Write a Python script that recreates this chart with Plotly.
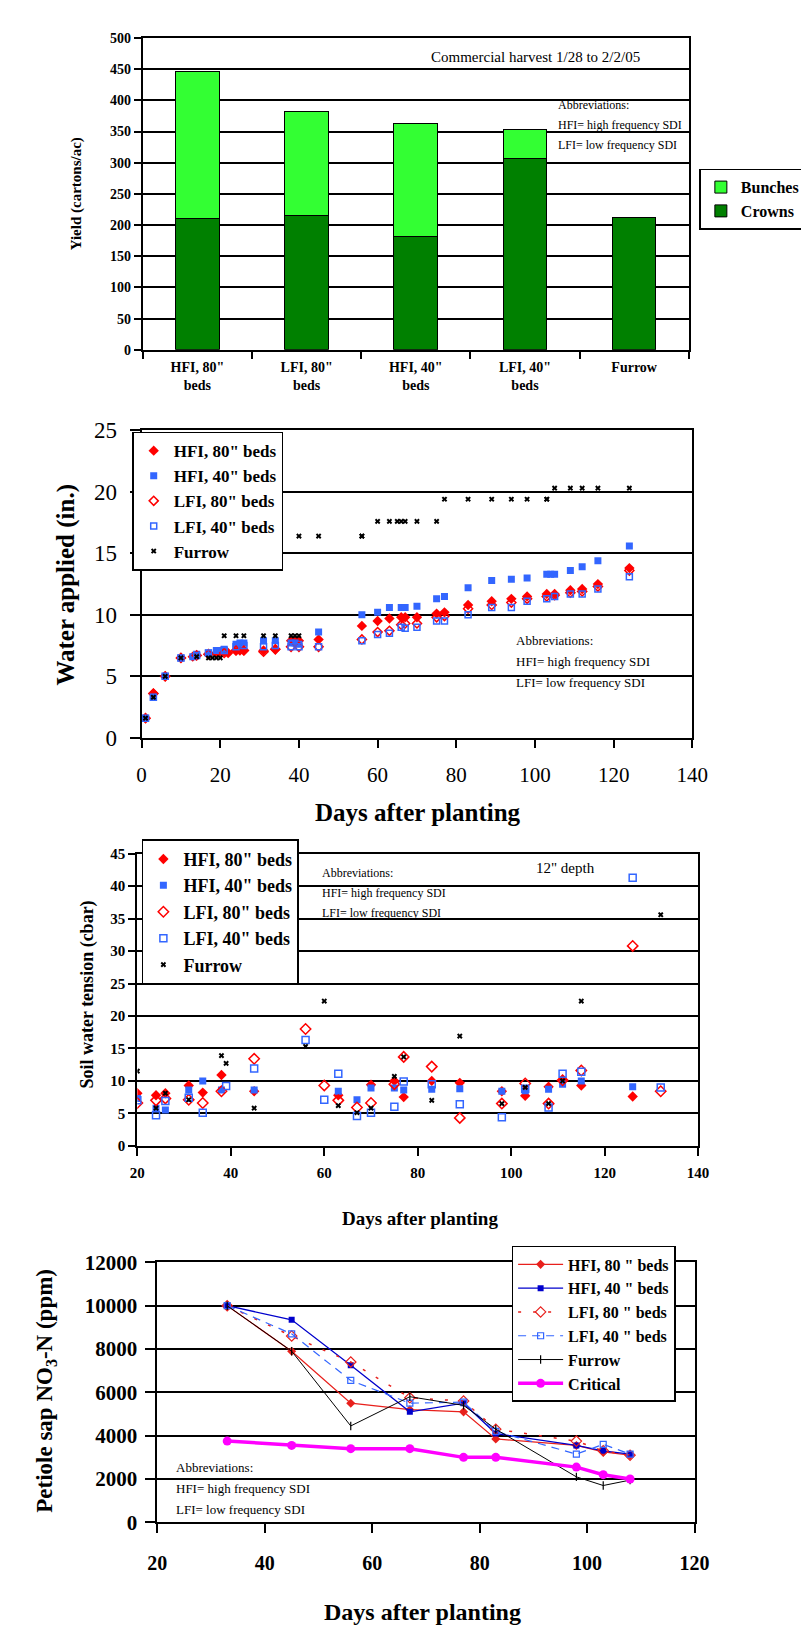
import plotly.graph_objects as go

W, H = 809, 1633
SERIF = "Liberation Serif"

# ---------------- Data ----------------
# Panel 1: yield
yield_cats = ['HFI, 80"<br>beds', 'LFI, 80"<br>beds', 'HFI, 40"<br>beds', 'LFI, 40"<br>beds', 'Furrow']
yield_crowns = [210, 215, 181, 307, 213]
yield_bunches = [237, 167, 182, 47, None]

# Panel 2: cumulative water applied (in.)
wa_hfi80_days = [1, 3, 6, 10, 13, 14, 17, 19, 20, 21, 22, 24, 25, 26, 31, 34, 38, 39, 40, 45, 56, 60, 63, 66, 67, 70, 75, 77, 83, 89, 94, 98, 103, 105, 109, 112, 116, 124]
wa_hfi80 = [1.6, 3.6, 5.0, 6.5, 6.6, 6.7, 6.8, 6.9, 7.0, 7.0, 6.9, 7.1, 7.1, 7.1, 7.1, 7.2, 7.9, 7.9, 7.9, 8.0, 9.1, 9.5, 9.7, 9.8, 9.8, 9.8, 10.1, 10.2, 10.8, 11.1, 11.3, 11.5, 11.7, 11.7, 12.0, 12.1, 12.5, 13.8]
wa_hfi40_days = [1, 3, 6, 10, 13, 14, 17, 19, 20, 21, 24, 25, 26, 31, 34, 38, 39, 40, 45, 56, 60, 63, 66, 67, 70, 75, 77, 83, 89, 94, 98, 103, 104, 105, 109, 112, 116, 124]
wa_hfi40 = [1.6, 3.3, 5.0, 6.5, 6.6, 6.8, 6.9, 7.1, 7.1, 7.2, 7.6, 7.7, 7.7, 7.9, 7.9, 7.7, 7.7, 7.6, 8.6, 10.0, 10.2, 10.6, 10.6, 10.6, 10.7, 11.3, 11.5, 12.2, 12.8, 12.9, 13.0, 13.3, 13.3, 13.3, 13.6, 13.9, 14.4, 15.6]
wa_lfi80_days = [1, 3, 6, 10, 14, 17, 21, 24, 26, 31, 34, 38, 40, 45, 56, 60, 63, 66, 67, 70, 75, 77, 83, 89, 94, 98, 103, 105, 109, 112, 116, 124]
wa_lfi80 = [1.6, 3.6, 5.0, 6.5, 6.7, 6.8, 6.9, 7.1, 7.1, 7.0, 7.2, 7.4, 7.4, 7.4, 8.0, 8.6, 8.7, 9.2, 9.3, 9.3, 9.8, 9.9, 10.5, 10.8, 11.0, 11.3, 11.5, 11.6, 11.8, 11.9, 12.3, 13.6]
wa_lfi40_days = [1, 3, 6, 10, 14, 17, 21, 24, 26, 31, 34, 38, 40, 45, 56, 60, 63, 66, 67, 70, 75, 77, 83, 89, 94, 98, 103, 105, 109, 112, 116, 124]
wa_lfi40 = [1.6, 3.3, 5.0, 6.5, 6.7, 6.9, 7.1, 7.4, 7.5, 7.4, 7.5, 7.4, 7.4, 7.4, 7.9, 8.4, 8.5, 9.0, 8.9, 9.0, 9.5, 9.5, 10.0, 10.6, 10.6, 11.1, 11.3, 11.5, 11.7, 11.7, 12.1, 13.1]
wa_furrow_days = [1, 3, 6, 10, 14, 17, 18, 19, 20, 21, 24, 26, 31, 34, 38, 39, 40, 40, 45, 56, 56, 60, 63, 65, 66, 67, 70, 75, 77, 83, 89, 94, 98, 103, 103, 105, 109, 112, 116, 124]
wa_furrow = [1.6, 3.3, 5.0, 6.5, 6.6, 6.5, 6.5, 6.5, 6.5, 8.3, 8.3, 8.3, 8.3, 8.3, 8.3, 8.3, 8.3, 16.4, 16.4, 16.4, 16.4, 17.6, 17.6, 17.6, 17.6, 17.6, 17.6, 17.6, 19.4, 19.4, 19.4, 19.4, 19.4, 19.4, 19.4, 20.3, 20.3, 20.3, 20.3, 20.3]

# Panel 3: soil water tension (cbar), 12" depth
st_hfi80_days = [20, 24, 26, 31, 34, 38, 45, 63, 70, 75, 77, 83, 89, 98, 103, 108, 111, 115, 126]
st_hfi80 = [8.1, 7.8, 8.1, 9.3, 8.2, 10.9, 8.4, 7.8, 9.4, 10.0, 7.5, 10.0, 9.7, 8.4, 7.7, 9.1, 10.1, 9.3, 7.6]
st_hfi40_days = [20, 24, 26, 31, 34, 38, 45, 63, 67, 70, 75, 77, 83, 89, 98, 103, 108, 111, 115, 126]
st_hfi40 = [7.3, 5.8, 5.5, 8.6, 10.0, 8.6, 8.6, 8.4, 7.1, 8.9, 8.9, 8.6, 8.7, 8.8, 8.4, 8.5, 8.7, 9.5, 10.0, 9.1]
st_lfi80_days = [20, 24, 26, 31, 34, 38, 45, 56, 60, 63, 67, 70, 75, 77, 83, 89, 98, 103, 108, 111, 115, 126, 132]
st_lfi80 = [6.6, 7.0, 7.3, 7.1, 6.6, 8.4, 13.4, 18.0, 9.3, 7.0, 5.9, 6.6, 9.5, 13.7, 12.2, 4.3, 6.5, 9.6, 6.5, 10.1, 11.6, 30.8, 8.4]
st_lfi40_days = [20, 24, 26, 31, 34, 39, 45, 56, 60, 63, 67, 70, 75, 77, 83, 89, 98, 103, 108, 111, 115, 126, 132]
st_lfi40 = [7.0, 4.7, 6.9, 7.4, 5.1, 9.2, 11.9, 16.3, 7.1, 11.1, 4.6, 5.1, 6.0, 9.9, 9.5, 6.4, 4.4, 8.8, 5.9, 11.1, 11.4, 41.3, 9.0]
st_furrow_days = [20, 24, 26, 31, 38, 39, 45, 56, 60, 63, 67, 70, 75, 77, 83, 89, 98, 103, 108, 111, 115, 132]
st_furrow = [11.5, 5.8, 8.1, 7.1, 13.9, 12.7, 5.8, 15.3, 22.3, 6.2, 5.1, 5.8, 10.7, 13.7, 7.0, 16.9, 6.5, 9.0, 6.5, 10.0, 22.3, 35.6]

# Panel 4: petiole sap NO3-N (ppm)
pn_days = [33, 45, 56, 67, 77, 83, 98, 103, 108]
pn_hfi80 = [10000, 7900, 5500, 5200, 5100, 3850, 3550, 3250, 3100]
pn_hfi40 = [10000, 9350, 7250, 5100, 5500, 4100, 3550, 3300, 3150]
pn_lfi80 = [10000, 8600, 7400, 5750, 5600, 4300, 3750, 3300, 3100]
pn_lfi40 = [10000, 8700, 6550, 5500, 5550, 4200, 3150, 3600, 3150]
pn_furrow = [10000, 7900, 4450, 5800, 5400, 4300, 2100, 1700, 1950]
pn_critical = [3750, 3550, 3400, 3400, 3000, 3000, 2550, 2200, 2000]

abbrev_lines = ["Abbreviations:", "HFI= high frequency SDI", "LFI= low frequency SDI"]

# ---------------- Helpers ----------------
def px(x):
    return x / W

def py(y):
    return 1 - y / H

RED = "#FF0000"
BLUE = "#3366FF"
DBLUE = "#0000CC"

fig = go.Figure()

# ---------- Panel 1 ----------
fig.add_trace(go.Bar(x=yield_cats, y=yield_crowns, name="Crowns", marker=dict(color="#008000", line=dict(color="black", width=1)),
                     width=0.4, xaxis="x", yaxis="y", legend="legend"))
fig.add_trace(go.Bar(x=yield_cats, y=yield_bunches, name="Bunches", marker=dict(color="#33FF33", line=dict(color="black", width=1)),
                     width=0.4, xaxis="x", yaxis="y", legend="legend"))

# ---------- Panel 2 ----------
def sc(xs, ys, name, sym, color, size, xa, ya, leg, open_=False, lw=1.5):
    m = dict(symbol=sym, size=size, color=color)
    if open_:
        m["line"] = dict(color=color, width=lw)
    return go.Scatter(x=xs, y=ys, name=name, mode="markers", marker=m, xaxis=xa, yaxis=ya, legend=leg,
                      legendgroup=name + leg)

fig.add_trace(sc(wa_hfi80_days, wa_hfi80, 'HFI, 80" beds', "diamond", RED, 8, "x2", "y2", "legend2"))
fig.add_trace(sc(wa_hfi40_days, wa_hfi40, 'HFI, 40" beds', "square", BLUE, 7, "x2", "y2", "legend2"))
fig.add_trace(sc(wa_lfi80_days, wa_lfi80, 'LFI, 80" beds', "diamond-open", RED, 7, "x2", "y2", "legend2", True))
fig.add_trace(sc(wa_lfi40_days, wa_lfi40, 'LFI, 40" beds', "square-open", BLUE, 6, "x2", "y2", "legend2", True))
fig.add_trace(sc(wa_furrow_days, wa_furrow, 'Furrow', "x", "black", 5, "x2", "y2", "legend2"))

# ---------- Panel 3 ----------
fig.add_trace(sc(st_hfi80_days, st_hfi80, 'HFI, 80" beds', "diamond", RED, 8, "x3", "y3", "legend3"))
fig.add_trace(sc(st_hfi40_days, st_hfi40, 'HFI, 40" beds', "square", BLUE, 7, "x3", "y3", "legend3"))
fig.add_trace(sc(st_lfi80_days, st_lfi80, 'LFI, 80" beds', "diamond-open", RED, 8, "x3", "y3", "legend3", True))
fig.add_trace(sc(st_lfi40_days, st_lfi40, 'LFI, 40" beds', "square-open", BLUE, 7, "x3", "y3", "legend3", True))
fig.add_trace(sc(st_furrow_days, st_furrow, 'Furrow', "x", "black", 5, "x3", "y3", "legend3"))

# ---------- Panel 4 ----------
def ln(ys, name, color, dash, sym, size, width, open_=False):
    m = dict(symbol=sym, size=size, color=color)
    if open_:
        m["line"] = dict(color=color, width=1.2)
    return go.Scatter(x=pn_days, y=ys, name=name, mode="lines+markers", line=dict(color=color, width=width, dash=dash),
                      marker=m, xaxis="x4", yaxis="y4", legend="legend4", legendgroup=name + "4")

fig.add_trace(ln(pn_hfi80, 'HFI, 80 " beds', "#E8201C", "solid", "diamond", 7, 1.3))
fig.add_trace(ln(pn_hfi40, 'HFI, 40 " beds', DBLUE, "solid", "square", 6, 1.3))
fig.add_trace(ln(pn_lfi80, 'LFI, 80 " beds', "#E8201C", "3px,12px", "diamond-open", 8, 1.5, True))
fig.add_trace(ln(pn_lfi40, 'LFI, 40 " beds', BLUE, "8px,6px", "square-open", 6, 1.2, True))
fig.add_trace(ln(pn_furrow, 'Furrow', "black", "solid", "line-ns-open", 6, 1.0, True))
fig.add_trace(ln(pn_critical, 'Critical', "#FF00FF", "solid", "circle", 9, 3.5))

# ---------------- Axes ----------------
def axstyle(**kw):
    d = dict(showline=True, linecolor="black", linewidth=2, mirror=True, ticks="outside", ticklen=8,
             tickwidth=1.5, tickcolor="black", showgrid=False, zeroline=False, fixedrange=True)
    d.update(kw)
    return d

def yax(**kw):
    d = axstyle(showgrid=True, gridcolor="black", gridwidth=1.5)
    d.update(kw)
    return d

layout = dict(
    width=W, height=H, margin=dict(l=0, r=0, t=0, b=0), paper_bgcolor="white", plot_bgcolor="white",
    barmode="stack", showlegend=True,
    font=dict(family=SERIF, color="black"),
    xaxis=axstyle(domain=[px(129), px(693)], anchor="y", tickson="boundaries", ticklen=7,
                  tickfont=dict(size=14, family=SERIF, weight="bold"), ticklabelstandoff=3),
    yaxis=yax(domain=[py(335), py(18.3)], anchor="x", range=[0, 500], dtick=50, ticklen=7,
              tickfont=dict(size=14, family=SERIF, weight="bold")),
    xaxis2=axstyle(domain=[px(127.7), px(696.7)], anchor="y2", range=[0, 140], dtick=20,
                   tickfont=dict(size=21, family=SERIF), ticklabelstandoff=9),
    yaxis2=yax(domain=[py(729), py(416.7)], anchor="x2", range=[0, 25], dtick=5, ticklen=10,
               tickfont=dict(size=23, family=SERIF), ticklabelstandoff=8),
    xaxis3=axstyle(domain=[px(123.3), px(702.7)], anchor="y3", range=[20, 140], dtick=20,
                   tickfont=dict(size=15, family=SERIF, weight="bold"), ticklabelstandoff=4),
    yaxis3=yax(domain=[py(1143.3), py(846.7)], anchor="x3", range=[0, 45], dtick=5, ticklen=7,
               tickfont=dict(size=15, family=SERIF, weight="bold")),
    xaxis4=axstyle(domain=[px(144), px(699)], anchor="y4", range=[20, 120], dtick=20, ticklen=9,
                   tickfont=dict(size=20, family=SERIF, weight="bold"), ticklabelstandoff=13),
    yaxis4=yax(domain=[py(1525.7), py(1261.7)], anchor="x4", range=[0, 12000], dtick=2000, ticklen=10,
               tickformat="d", tickfont=dict(size=21, family=SERIF, weight="bold"), ticklabelstandoff=4),
)

legbase = dict(bgcolor="white", bordercolor="black", borderwidth=1.5, xanchor="left", yanchor="top",
               itemwidth=30, itemclick=False, itemdoubleclick=False)
layout["legend"] = dict(legbase, x=px(704), y=py(151), traceorder="reversed",
                        font=dict(size=16, family=SERIF, weight="bold"))
layout["legend2"] = dict(legbase, x=px(118), y=py(418), traceorder="normal",
                         font=dict(size=17, family=SERIF, weight="bold"))
layout["legend3"] = dict(legbase, x=px(128), y=py(832), traceorder="normal",
                         font=dict(size=18, family=SERIF, weight="bold"))
layout["legend4"] = dict(legbase, x=px(510), y=py(1245), traceorder="normal", itemwidth=45,
                         font=dict(size=16, family=SERIF, weight="bold"))

fig.update_layout(**layout)

# ---------------- Annotations ----------------
ann = []

def txt(x, y, s, size, bold=False, angle=0, xanchor="center", yanchor="middle"):
    ann.append(dict(x=px(x), y=py(y), xref="paper", yref="paper", text=s, showarrow=False, textangle=angle,
                    xanchor=xanchor, yanchor=yanchor,
                    font=dict(size=size, family=SERIF, color="black", weight="bold" if bold else "normal")))

# Panel 1
txt(535, 38, "Commercial harvest 1/28 to 2/2/05", 15)
for i, s in enumerate(abbrev_lines):
    txt(556, 86 + i * 20.5, s, 12, xanchor="left")
txt(60, 177, "Yield (cartons/ac)", 15, bold=True, angle=-90)

# Panel 2
for i, s in enumerate(abbrev_lines):
    txt(512, 630 + i * 21.5, s, 13, xanchor="left")
txt(50, 573, "Water applied (in.)", 25, bold=True, angle=-90)
txt(413, 805, "Days after planting", 25, bold=True)

# Panel 3
for i, s in enumerate(abbrev_lines):
    txt(312, 866 + i * 20.5, s, 12, xanchor="left")
txt(566, 861, '12" depth', 15)
txt(72, 990, "Soil water tension (cbar)", 18, bold=True, angle=-90)
txt(415, 1217, "Days after planting", 19, bold=True)

# Panel 4
for i, s in enumerate(abbrev_lines):
    txt(161, 1470 + i * 21.5, s, 13, xanchor="left")
txt(29, 1392, "Petiole sap NO<sub>3</sub>-N (ppm)", 23, bold=True, angle=-90)
txt(418, 1617, "Days after planting", 24, bold=True)

fig.update_layout(annotations=ann)

fig.write_html("out.html", config={"displayModeBar": False})
